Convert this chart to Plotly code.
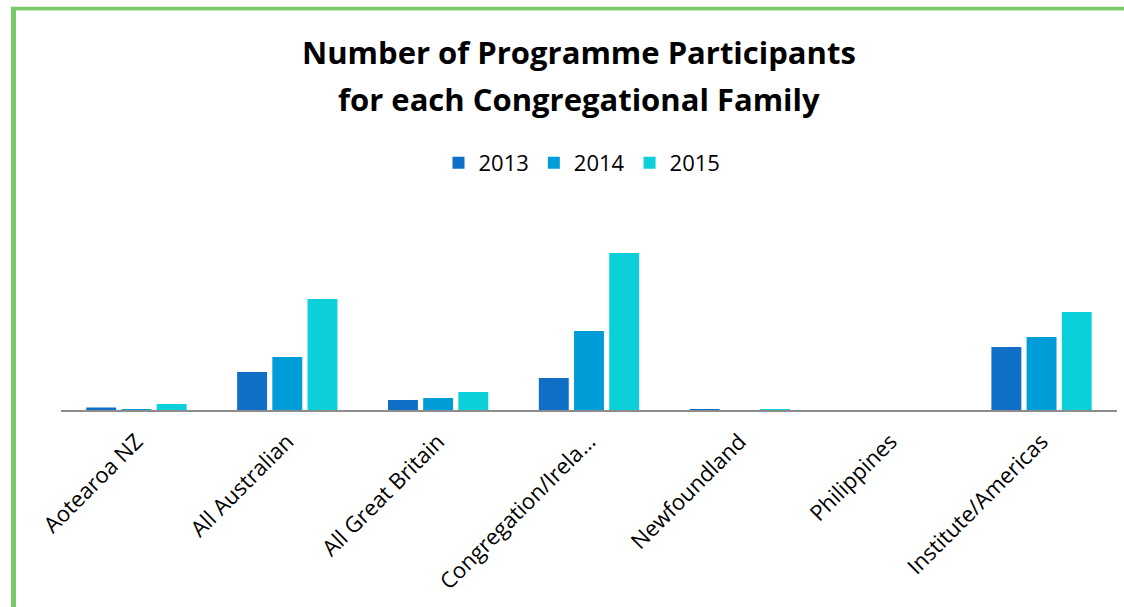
import plotly.graph_objects as go

categories = ["Aotearoa NZ", "All Australian", "All Great Britain", "Congregation/Irela…",
              "Newfoundland", "Philippines", "Institute/Americas"]
years = ["2013", "2014", "2015"]
v2013 = [2.5, 38, 10, 32, 0.5, 0, 63]
v2014 = [1, 53, 12, 79, 0, 0, 73]
v2015 = [6, 111, 18, 157, 0.5, 0, 98]
colors = ["#0F6FC6", "#009DD9", "#0BD0D9"]

W, H = 1124, 607
ML, MR, MT, MB = 61, 7, 200, 197
PW, PH = W - ML - MR, H - MT - MB

def px_x(x):
    return (x - ML) / PW

def px_y(y):
    return (H - MB - y) / PH

fig = go.Figure()
for name, vals, c in zip(years, [v2013, v2014, v2015], colors):
    fig.add_trace(go.Bar(x=categories, y=vals, name=name, marker=dict(color=c, line=dict(width=0))))

FONT = "Open Sans"
fig.update_layout(
    width=W, height=H,
    margin=dict(l=ML, r=MR, t=MT, b=MB, autoexpand=False),
    paper_bgcolor="white", plot_bgcolor="white",
    barmode="group", bargap=0.3, bargroupgap=0.15,
    showlegend=True,
    legend=dict(orientation="h", x=px_x(582), xanchor="center", y=px_y(163), yanchor="middle",
                font=dict(family=FONT, size=22, color="#000000"), itemwidth=30,
                traceorder="normal"),
    xaxis=dict(showline=True, linecolor="#8C8C8C", linewidth=2, ticks="", tickangle=-45,
               tickfont=dict(family=FONT, size=22, color="#000000"), showgrid=False,
               ticklabelstandoff=8, fixedrange=True),
    yaxis=dict(range=[0, PH], visible=False, showgrid=False, fixedrange=True),
    font=dict(family=FONT),
)

fig.add_annotation(text="<b>Number of Programme Participants</b>", xref="paper", yref="paper",
                   x=px_x(579), y=px_y(52), xanchor="center", yanchor="middle", showarrow=False,
                   font=dict(family=FONT, size=31, color="#000000"))
fig.add_annotation(text="<b>for each Congregational Family</b>", xref="paper", yref="paper",
                   x=px_x(579), y=px_y(99), xanchor="center", yanchor="middle", showarrow=False,
                   font=dict(family=FONT, size=31, color="#000000"))

green = "#77C965"
fig.add_shape(type="line", xref="paper", yref="paper", x0=px_x(13.5), x1=px_x(13.5),
              y0=px_y(7), y1=px_y(H + 5), line=dict(color=green, width=5))
fig.add_shape(type="line", xref="paper", yref="paper", x0=px_x(11), x1=px_x(W + 5),
              y0=px_y(8.5), y1=px_y(8.5), line=dict(color=green, width=3.5))
fig.add_shape(type="line", xref="paper", yref="paper", x0=px_x(16), x1=px_x(W + 5),
              y0=px_y(10.5), y1=px_y(10.5), line=dict(color="#C9EBC1", width=1))

fig.write_html("out.html")
